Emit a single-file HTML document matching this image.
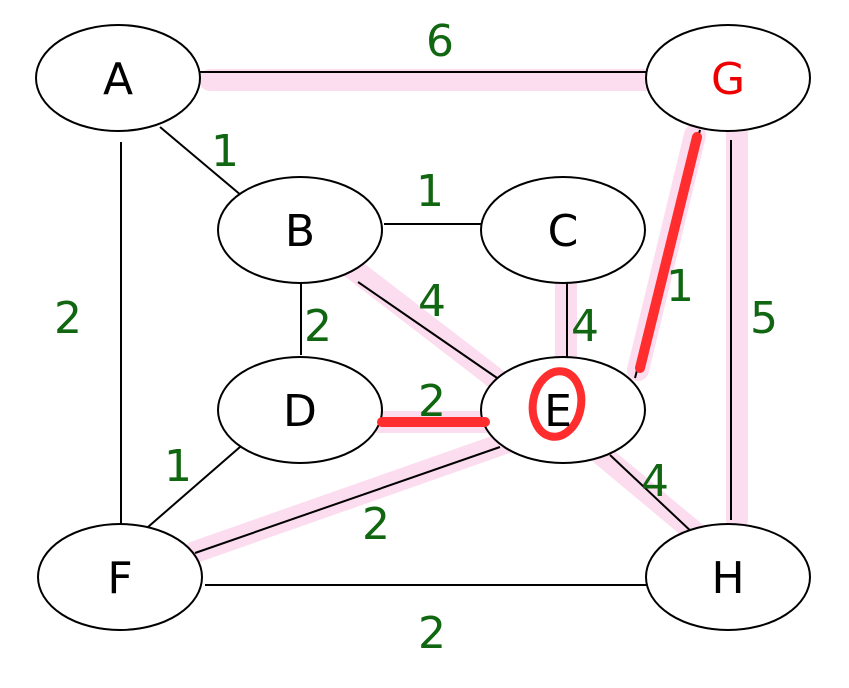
<!DOCTYPE html>
<html><head><meta charset="utf-8"><style>body{margin:0;background:#fff}</style></head>
<body>
<svg width="849" height="683" viewBox="0 0 849 683" xmlns="http://www.w3.org/2000/svg" font-family="DejaVu Sans, Liberation Sans, sans-serif">
<g stroke="#fcdcef" stroke-linecap="round" fill="none">
<line x1="210" y1="80" x2="650" y2="80" stroke-width="22"/>
<line x1="695" y1="135" x2="638" y2="370" stroke-width="22"/>
<line x1="737" y1="132" x2="737" y2="520" stroke-width="22"/>
<line x1="352" y1="268" x2="508" y2="388" stroke-width="22"/>
<line x1="566" y1="282" x2="566" y2="365" stroke-width="22"/>
<line x1="380" y1="422" x2="495" y2="422" stroke-width="22"/>
<line x1="508" y1="442" x2="195" y2="552" stroke-width="22"/>
<line x1="602" y1="455" x2="698" y2="535" stroke-width="22"/>
</g>
<g stroke="#000" stroke-width="2" fill="none">
<line x1="200" y1="72" x2="648" y2="72"/>
<line x1="160" y1="127" x2="242" y2="196"/>
<line x1="121" y1="142" x2="121" y2="530"/>
<line x1="384" y1="224" x2="482" y2="224"/>
<line x1="301" y1="283" x2="301" y2="355"/>
<line x1="358" y1="282" x2="500" y2="380"/>
<line x1="567" y1="283" x2="567" y2="360"/>
<line x1="700" y1="130" x2="635" y2="378"/>
<line x1="731" y1="140" x2="731" y2="520"/>
<line x1="240" y1="447" x2="148" y2="527"/>
<line x1="500" y1="447" x2="195" y2="553"/>
<line x1="610" y1="455" x2="695" y2="535"/>
<line x1="205" y1="585" x2="652" y2="585"/>
</g>
<g stroke="#000" stroke-width="2" fill="#fff">
<ellipse cx="118" cy="78" rx="82" ry="53"/>
<ellipse cx="728" cy="78" rx="82" ry="53"/>
<ellipse cx="300" cy="230" rx="82" ry="53"/>
<ellipse cx="563" cy="230" rx="82" ry="53"/>
<ellipse cx="300" cy="410" rx="82" ry="53"/>
<ellipse cx="563" cy="410" rx="82" ry="53"/>
<ellipse cx="120" cy="577" rx="82" ry="53"/>
<ellipse cx="728" cy="577" rx="82" ry="53"/>
</g>
<g stroke="#ff2d2d" stroke-linecap="round" fill="none">
<line x1="697" y1="137" x2="640" y2="368" stroke-width="10"/>
<line x1="382" y1="422" x2="485" y2="422" stroke-width="10"/>
<ellipse cx="557" cy="404" rx="24" ry="33" stroke-width="8" transform="rotate(10 557 404)"/>
</g>
<g font-size="44" text-anchor="middle" fill="#000">
<text x="118" y="94">A</text>
<text x="728" y="94" fill="#e00">G</text>
<text x="300" y="246">B</text>
<text x="563" y="246">C</text>
<text x="300" y="426">D</text>
<text x="558" y="426">E</text>
<text x="120" y="593">F</text>
<text x="728" y="593">H</text>
</g>
<g font-size="44" text-anchor="middle" fill="#116611">
<text x="440" y="56">6</text>
<text x="225" y="166">1</text>
<text x="430" y="206">1</text>
<text x="68" y="333">2</text>
<text x="318" y="341">2</text>
<text x="432" y="316">4</text>
<text x="585" y="341">4</text>
<text x="680" y="301">1</text>
<text x="764" y="333">5</text>
<text x="432" y="416">2</text>
<text x="178" y="481">1</text>
<text x="376" y="539">2</text>
<text x="655" y="496">4</text>
<text x="432" y="648">2</text>
</g>
</svg>
</body></html>
